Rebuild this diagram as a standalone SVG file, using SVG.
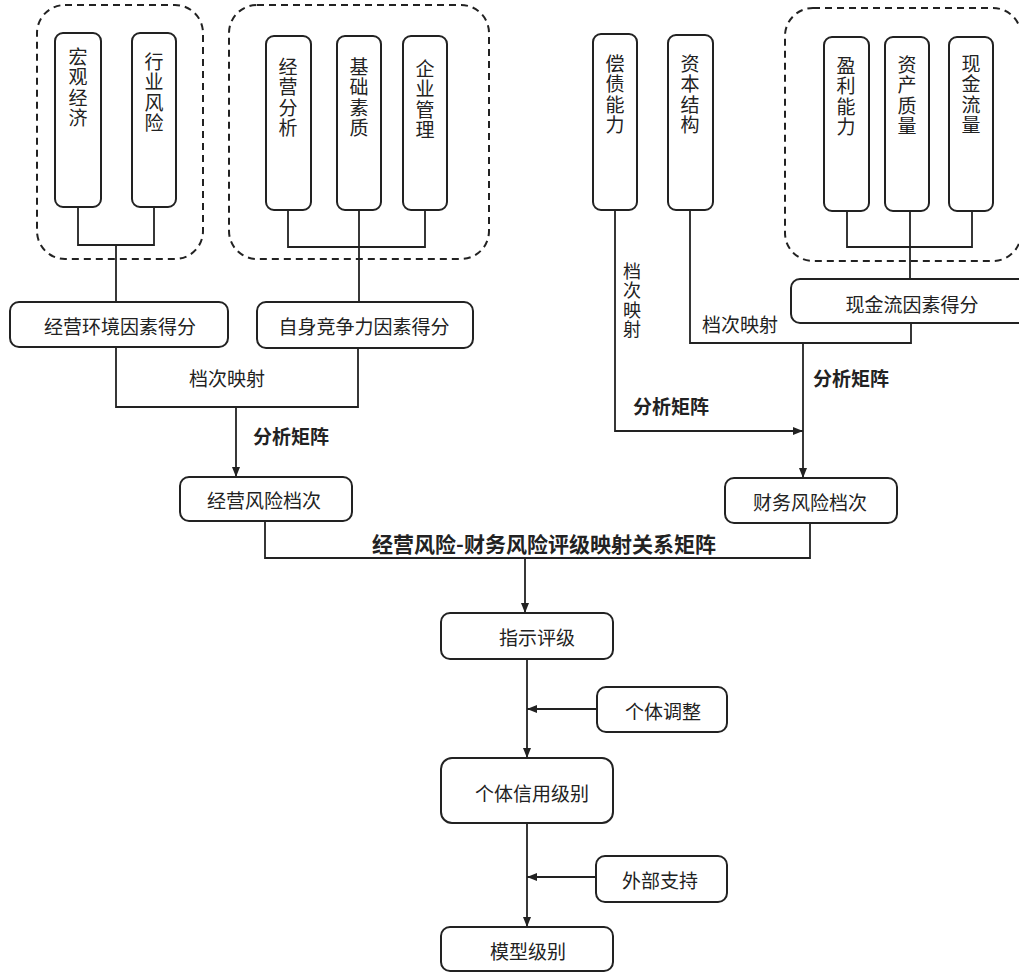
<svg xmlns="http://www.w3.org/2000/svg" width="1019" height="972" viewBox="0 0 1019 972">
<style>
.bg{fill:#fff}
.box{fill:#fff;stroke:#222;stroke-width:2}
.grp{fill:none;stroke:#222;stroke-width:2;stroke-dasharray:7 5}
.ln{fill:none;stroke:#222;stroke-width:1.8}
.t{font-family:"Noto Sans CJK SC","Noto Sans",sans-serif;font-size:19px;fill:#222;text-anchor:middle;dominant-baseline:central}
.v{font-family:"Noto Sans CJK SC","Noto Sans",sans-serif;font-size:19px;fill:#222;writing-mode:vertical-rl;text-anchor:start;dominant-baseline:central;letter-spacing:1.5px}
.b{font-weight:bold}
</style>
<defs>
<marker id="ah" markerUnits="userSpaceOnUse" markerWidth="10" markerHeight="10" viewBox="0 0 10 10" refX="10" refY="5" orient="auto">
<path d="M0,1 L10,5 L0,9 Z" fill="#222"/>
</marker>
</defs>
<rect class="bg" x="0" y="0" width="1019" height="972"/>

<g id="groups">
<rect id="grp-env" class="grp" x="37" y="5" width="166" height="254" rx="28"/>
<rect id="grp-comp" class="grp" x="229" y="5" width="260" height="254" rx="28"/>
<rect id="grp-cash" class="grp" x="785" y="8" width="236" height="253" rx="28"/>
</g>

<g id="connectors">
<path class="ln" d="M78,207 V245 H154 V207"/>
<path class="ln" d="M116,245 V302"/>
<path class="ln" d="M288,210 V247 H425 V210"/>
<path class="ln" d="M359,210 V302"/>
<path class="ln" d="M116,347 V407 H358 V348"/>
<path class="ln" d="M236,407 V477" marker-end="url(#ah)"/>
<path class="ln" d="M615,210 V431 H803" marker-end="url(#ah)"/>
<path class="ln" d="M690,210 V343 H911 V323"/>
<path class="ln" d="M847,211 V247 H972 V211"/>
<path class="ln" d="M910,211 V279"/>
<path class="ln" d="M803,343 V478" marker-end="url(#ah)"/>
<path class="ln" d="M265,521 V558 H810 V523"/>
<path class="ln" d="M525,558 V613" marker-end="url(#ah)"/>
<path class="ln" d="M527,659 V758" marker-end="url(#ah)"/>
<path class="ln" d="M597,709 H527" marker-end="url(#ah)"/>
<path class="ln" d="M527,823 V927" marker-end="url(#ah)"/>
<path class="ln" d="M596,877 H527" marker-end="url(#ah)"/>
</g>

<g id="labels">
<text class="t" x="227" y="377" font-size="18">档次映射</text>
<text class="t b" x="291" y="435">分析矩阵</text>
<text class="v" x="632" y="262" style="font-size:18px">档次映射</text>
<text class="t" x="740" y="323">档次映射</text>
<text class="t b" x="851" y="377">分析矩阵</text>
<text class="t b" x="671" y="405">分析矩阵</text>
<text class="t b" x="544" y="543" style="font-size:21px">经营风险-财务风险评级映射关系矩阵</text>
</g>

<g id="n-hgjj"><rect class="box" x="55" y="33" width="46" height="174" rx="8"/>
<text class="v" x="78" y="47">宏观经济</text></g>
<g id="n-hyfx"><rect class="box" x="132" y="33" width="44" height="174" rx="8"/>
<text class="v" x="154" y="52">行业风险</text></g>
<g id="n-jyfx"><rect class="box" x="266" y="36" width="45" height="174" rx="8"/>
<text class="v" x="288" y="57">经营分析</text></g>
<g id="n-jcsz"><rect class="box" x="337" y="36" width="44" height="174" rx="8"/>
<text class="v" x="359" y="57">基础素质</text></g>
<g id="n-qygl"><rect class="box" x="403" y="36" width="44" height="174" rx="8"/>
<text class="v" x="425" y="59">企业管理</text></g>

<g id="n-cznl"><rect class="box" x="593" y="34" width="44" height="176" rx="8"/>
<text class="v" x="615" y="54">偿债能力</text></g>
<g id="n-zbjg"><rect class="box" x="668" y="35" width="45" height="175" rx="8"/>
<text class="v" x="690" y="54">资本结构</text></g>
<g id="n-ylnl"><rect class="box" x="824" y="37" width="45" height="174" rx="8"/>
<text class="v" x="846" y="56">盈利能力</text></g>
<g id="n-zczl"><rect class="box" x="885" y="37" width="44" height="174" rx="8"/>
<text class="v" x="907" y="55">资产质量</text></g>
<g id="n-xjll"><rect class="box" x="949" y="37" width="44" height="174" rx="8"/>
<text class="v" x="971" y="54">现金流量</text></g>

<g id="n-jyhj"><rect class="box" x="10" y="302" width="218" height="45" rx="9"/><text class="t" x="120" y="325">经营环境因素得分</text></g>
<g id="n-zsjz"><rect class="box" x="257" y="302" width="216" height="46" rx="9"/><text class="t" x="364" y="325">自身竞争力因素得分</text></g>
<g id="n-xjlys"><rect class="box" x="791" y="279" width="240" height="44" rx="9"/><text class="t" x="912" y="303">现金流因素得分</text></g>
<g id="n-jyfxdc"><rect class="box" x="180" y="477" width="172" height="44" rx="9"/><text class="t" x="264" y="499">经营风险档次</text></g>
<g id="n-cwfxdc"><rect class="box" x="725" y="478" width="172" height="45" rx="9"/><text class="t" x="810" y="501">财务风险档次</text></g>
<g id="n-zspj"><rect class="box" x="441" y="613" width="172" height="46" rx="9"/><text class="t" x="537" y="636">指示评级</text></g>
<g id="n-gttz"><rect class="box" x="597" y="687" width="130" height="45" rx="9"/><text class="t" x="663" y="710">个体调整</text></g>
<g id="n-gtxy"><rect class="box" x="441" y="758" width="172" height="65" rx="11"/><text class="t" x="532" y="792">个体信用级别</text></g>
<g id="n-wbzc"><rect class="box" x="596" y="856" width="131" height="46" rx="9"/><text class="t" x="660" y="879">外部支持</text></g>
<g id="n-mxjb"><rect class="box" x="441" y="927" width="172" height="44" rx="9"/><text class="t" x="528" y="950">模型级别</text></g>
</svg>
